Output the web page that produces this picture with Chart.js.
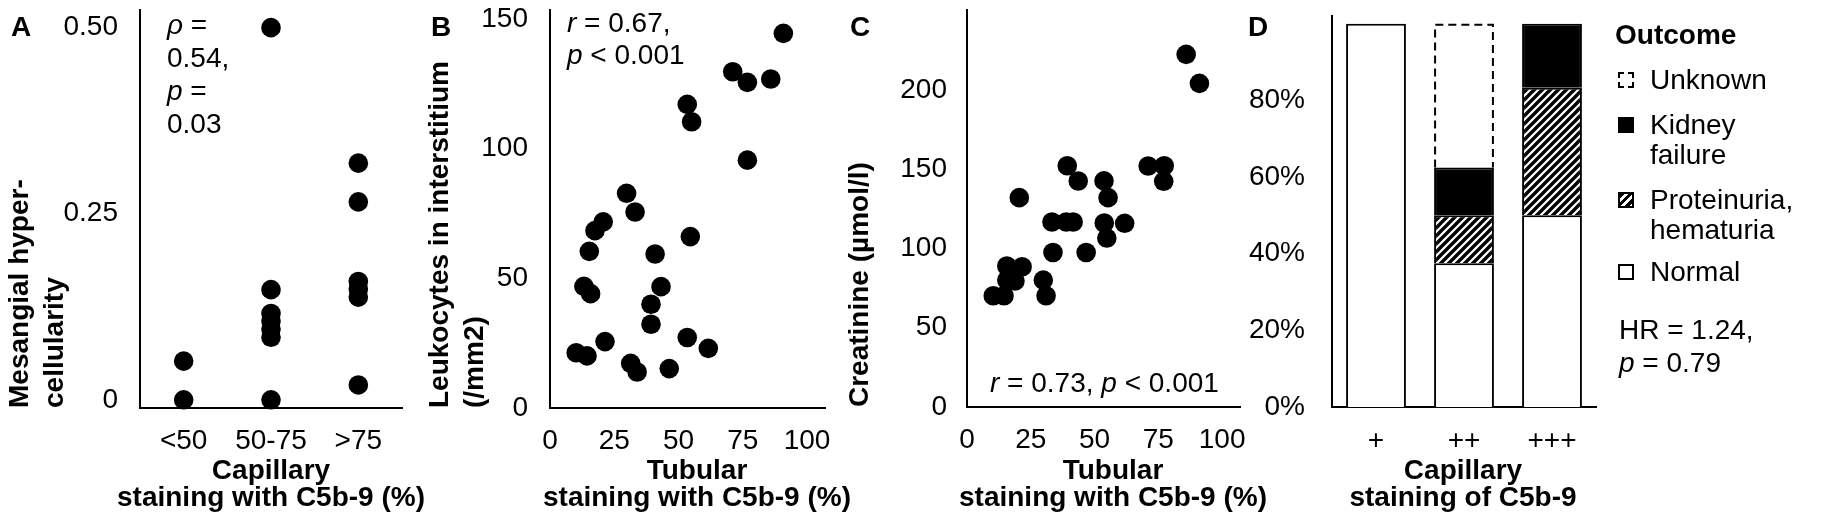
<!DOCTYPE html>
<html>
<head>
<meta charset="utf-8">
<script src="https://cdn.jsdelivr.net/npm/chart.js@4.4.1/dist/chart.umd.min.js"></script>
<style>
  html, body { margin:0; padding:0; background:#fff; }
  #wrap { position:relative; width:1824px; height:520px; background:#fff; overflow:hidden;
          font-family:"Liberation Sans", Arial, Helvetica, sans-serif; color:#000; }
  canvas { position:absolute; top:0; }
  .t { position:absolute; font-size:28px; white-space:nowrap; }
  .b { font-weight:bold; }
  .i { font-style:italic; }
  .xt { position:absolute; width:400px; text-align:center; font-size:28px; font-weight:bold; line-height:27px; top:456px; white-space:nowrap; }
  .mk { position:absolute; box-sizing:border-box; width:16px; height:16px; }
</style>
</head>
<body>
<div id="wrap">
  <canvas id="cA" width="430" height="520" style="left:0px"></canvas>
  <canvas id="cB" width="420" height="520" style="left:420px"></canvas>
  <canvas id="cC" width="410" height="520" style="left:840px"></canvas>
  <canvas id="cD" width="584" height="520" style="left:1240px"></canvas>

  <div class="t b" style="left:11px;top:11px;line-height:32px">A</div>
  <div class="t b" style="left:431px;top:11px;line-height:32px">B</div>
  <div class="t b" style="left:850px;top:11px;line-height:32px">C</div>
  <div class="t b" style="left:1248px;top:11px;line-height:32px">D</div>

  <div class="xt" style="left:71px">Capillary<br>staining with C5b-9 (%)</div>
  <div class="xt" style="left:497px">Tubular<br>staining with C5b-9 (%)</div>
  <div class="xt" style="left:913px">Tubular<br>staining with C5b-9 (%)</div>
  <div class="xt" style="left:1263px">Capillary<br>staining of C5b-9</div>

  <div class="t" style="left:167px;top:8px;line-height:33px"><span class="i">ρ</span> =<br>0.54,<br><span class="i">p</span> =<br>0.03</div>
  <div class="t" style="left:567px;top:7px;line-height:32px"><span class="i">r</span> = 0.67,<br><span class="i">p</span> &lt; 0.001</div>
  <div class="t" style="left:990px;top:367px;line-height:32px"><span class="i">r</span> = 0.73, <span class="i">p</span> &lt; 0.001</div>

  <div class="t b" style="left:1615px;top:19px;line-height:32px">Outcome</div>
  <div class="mk" style="left:1618px;top:72px;border:2px dashed #000;background:#fff"></div>
  <div class="t" style="left:1650px;top:64px;line-height:32px">Unknown</div>
  <div class="mk" style="left:1618px;top:117px;background:#000"></div>
  <div class="t" style="left:1650px;top:110px;line-height:30px">Kidney<br>failure</div>
  <div class="mk" style="left:1618px;top:192px;border:2px solid #000;background:repeating-linear-gradient(135deg,#000 0 3px,#fff 3px 6px)"></div>
  <div class="t" style="left:1650px;top:185px;line-height:30px">Proteinuria,<br>hematuria</div>
  <div class="mk" style="left:1618px;top:264px;border:2px solid #000;background:#fff"></div>
  <div class="t" style="left:1650px;top:256px;line-height:32px">Normal</div>
  <div class="t" style="left:1619px;top:313px;line-height:33px">HR = 1.24,<br><span class="i">p</span> = 0.79</div>
</div>
<script>
// ---------- data ----------
const catsA = ['<50', '50-75', '>75'];
const mesangialLow = [0.052, 0];
const mesangialMid = [0.5, 0.148, 0.116, 0.106, 0.095, 0.084, 0];
const mesangialHigh = [0.318, 0.266, 0.159, 0.149, 0.138, 0.020];
const ticksAy = [0, 0.25, 0.5];
const tickLabelsAy = ['0', '0.25', '0.50'];

const tubularB = [90.8, 71.1, 76.8, 85.9, 53.4, 55.1, 76.8, 29.8, 33.1, 20.7, 17.5, 15.3, 54.6, 40.9,
                  13.2, 15.8, 43.2, 39.3, 39.3, 21.4, 53.4, 61.6, 10.2, 14.4, 31.4, 33.9, 46.4];
const leukocytesB = [144.5, 129.7, 125.6, 126.9, 117.1, 110.4, 95.6, 82.8, 75.6, 71.8, 68.4, 60.4, 66.1, 59.4,
                     46.9, 44.1, 46.8, 40.0, 32.3, 25.6, 27.2, 23.0, 21.3, 20.1, 17.2, 13.9, 15.2];
const tubularC = [85.9, 91.1, 39.3, 43.6, 53.7, 55.3, 71.0, 77.3, 77.1, 20.5, 33.3, 38.9, 41.6, 53.8,
                  61.8, 54.8, 33.7, 46.7, 15.6, 21.6, 15.6, 18.8, 29.9, 10.3, 14.5, 31.0];
const creatinineC = [222.5, 204.2, 152.2, 142.6, 142.7, 132.1, 152.1, 152.2, 142.4, 132.1, 116.7, 116.7, 116.7, 116.1,
                     115.9, 106.6, 97.5, 97.5, 89.0, 88.5, 80.1, 79.5, 80.1, 70.2, 70.2, 70.2];
const ticksTubular = [0, 25, 50, 75, 100];
const ticksBy = [0, 50, 100, 150];
const ticksCy = [0, 50, 100, 150, 200];

const catsD = ['+', '++', '+++'];
const normalD = [100, 37.5, 50];
const proteinuriaD = [null, 12.5, 33.3];
const kidneyD = [null, 12.5, 16.7];
const unknownD = [null, 37.5, null];
const ticksDy = [0, 20, 40, 60, 80];

// ---------- common ----------
const FONT = '"Liberation Sans", Arial, Helvetica, sans-serif';
Chart.defaults.font.family = FONT;
Chart.defaults.font.size = 28;
Chart.defaults.color = '#000';

function fitter(size, vertical) {
  return function (scale) {
    if (vertical) scale.width = size; else scale.height = size;
    scale.paddingTop = 0; scale.paddingBottom = 0; scale.paddingLeft = 0; scale.paddingRight = 0;
  };
}
function fixTicks(vals) {
  return function (scale) { scale.ticks = vals.map(v => ({ value: v })); };
}
const noGrid = { display: false, drawTicks: false, tickLength: 0 };
const border = { display: true, color: '#000', width: 2 };
function yTitle(lines) {
  return { display: true, text: lines, align: 'start', font: { size: 28, weight: 'bold', lineHeight: 1.25 }, padding: { top: 3, bottom: 0 } };
}
const baseOpts = {
  responsive: false, animation: false, events: [],
  plugins: { legend: { display: false }, tooltip: { enabled: false } }
};
const pointStyle = { pointRadius: 9.8, pointHoverRadius: 9.8, backgroundColor: '#000', borderWidth: 0, clip: false };

// ---------- A ----------
new Chart(document.getElementById('cA'), {
  type: 'scatter',
  data: {
    datasets: [
      Object.assign({ data: mesangialLow.map(v => ({ x: 1, y: v })) }, pointStyle),
      Object.assign({ data: mesangialMid.map(v => ({ x: 2, y: v })) }, pointStyle),
      Object.assign({ data: mesangialHigh.map(v => ({ x: 3, y: v })) }, pointStyle)
    ]
  },
  options: Object.assign({}, baseOpts, {
    layout: { padding: { left: 0, top: 9, right: 28, bottom: 0 } },
    scales: {
      x: {
        type: 'linear', min: 0.5, max: 3.5, grid: noGrid, border: border,
        afterBuildTicks: fixTicks([1, 2, 3]), afterFit: fitter(112, false),
        ticks: { padding: 16, maxRotation: 0, autoSkip: false, callback: v => catsA[Math.round(v) - 1] }
      },
      y: {
        type: 'linear', min: -0.011, max: 0.524, grid: noGrid, border: border,
        afterBuildTicks: fixTicks(ticksAy), afterFit: fitter(140, true),
        ticks: { padding: 22, callback: v => tickLabelsAy[ticksAy.indexOf(v)] },
        title: yTitle(['Mesangial hyper-', 'cellularity'])
      }
    }
  })
});

// ---------- B ----------
new Chart(document.getElementById('cB'), {
  type: 'scatter',
  data: { datasets: [Object.assign({ data: tubularB.map((v, i) => ({ x: v, y: leukocytesB[i] })) }, pointStyle)] },
  options: Object.assign({}, baseOpts, {
    layout: { padding: { left: 0, top: 10, right: 15, bottom: 0 } },
    scales: {
      x: {
        type: 'linear', min: 0, max: 107, grid: noGrid, border: border,
        afterBuildTicks: fixTicks(ticksTubular), afterFit: fitter(112, false),
        ticks: { padding: 16, maxRotation: 0, autoSkip: false }
      },
      y: {
        type: 'linear', min: 0, max: 153.5, grid: noGrid, border: border,
        afterBuildTicks: fixTicks(ticksBy), afterFit: fitter(130, true),
        ticks: { padding: 22 },
        title: yTitle(['Leukocytes in interstitium', '(/mm2)'])
      }
    }
  })
});

// ---------- C ----------
new Chart(document.getElementById('cC'), {
  type: 'scatter',
  data: { datasets: [Object.assign({ data: tubularC.map((v, i) => ({ x: v, y: creatinineC[i] })) }, pointStyle)] },
  options: Object.assign({}, baseOpts, {
    layout: { padding: { left: 0, top: 10, right: 10, bottom: 0 } },
    scales: {
      x: {
        type: 'linear', min: 0, max: 107, grid: noGrid, border: border,
        afterBuildTicks: fixTicks(ticksTubular), afterFit: fitter(113, false),
        ticks: { padding: 16, maxRotation: 0, autoSkip: false }
      },
      y: {
        type: 'linear', min: 0, max: 250.5, grid: noGrid, border: border,
        afterBuildTicks: fixTicks(ticksCy), afterFit: fitter(127, true),
        ticks: { padding: 20 },
        title: yTitle(['Creatinine (µmol/l)'])
      }
    }
  })
});

// ---------- D ----------
function makeHatch() {
  const c = document.createElement('canvas');
  c.width = 8; c.height = 8;
  const g = c.getContext('2d');
  g.fillStyle = '#fff'; g.fillRect(0, 0, 8, 8);
  g.strokeStyle = '#000'; g.lineWidth = 3.4; g.lineCap = 'square';
  g.beginPath();
  for (const x0 of [-8, 0, 8]) { g.moveTo(x0, 8); g.lineTo(x0 + 8, 0); }
  g.stroke();
  return g.createPattern(c, 'repeat');
}
const hatch = makeHatch();
const barBorder = { top: 2, left: 2, right: 2, bottom: 0 };
const dashedBars = {
  id: 'dashedBars',
  afterDatasetsDraw(chart) {
    const ctx = chart.ctx;
    chart.data.datasets.forEach((ds, i) => {
      if (!ds.dashed) return;
      const meta = chart.getDatasetMeta(i);
      meta.data.forEach((el, j) => {
        if (ds.data[j] == null) return;
        const p = el.getProps(['x', 'y', 'base', 'width'], true);
        const l = p.x - p.width / 2 + 1, r = p.x + p.width / 2 - 1, top = p.y + 1;
        ctx.save();
        ctx.setLineDash([8, 5]);
        ctx.lineWidth = 2; ctx.strokeStyle = '#000';
        ctx.beginPath();
        ctx.moveTo(l, p.base); ctx.lineTo(l, top); ctx.lineTo(r, top); ctx.lineTo(r, p.base);
        ctx.stroke();
        ctx.restore();
      });
    });
  }
};
new Chart(document.getElementById('cD'), {
  type: 'bar',
  data: {
    labels: catsD,
    datasets: [
      { label: 'Normal', data: normalD, backgroundColor: '#fff', borderColor: '#000', borderWidth: barBorder, borderSkipped: false },
      { label: 'Proteinuria, hematuria', data: proteinuriaD, backgroundColor: hatch, borderColor: '#000', borderWidth: barBorder, borderSkipped: false },
      { label: 'Kidney failure', data: kidneyD, backgroundColor: '#000', borderColor: '#000', borderWidth: barBorder, borderSkipped: false },
      { label: 'Unknown', data: unknownD, backgroundColor: '#fff', borderWidth: 0, dashed: true }
    ]
  },
  plugins: [dashedBars],
  options: Object.assign({}, baseOpts, {
    layout: { padding: { left: 0, top: 16, right: 228, bottom: 0 } },
    datasets: { bar: { categoryPercentage: 1, barPercentage: 0.68 } },
    scales: {
      x: {
        stacked: true, offset: true, grid: Object.assign({ offset: true }, noGrid), border: border,
        afterFit: fitter(113, false),
        ticks: { padding: 17, maxRotation: 0, autoSkip: false }
      },
      y: {
        stacked: true, min: 0, max: 102, grid: noGrid, border: border,
        afterBuildTicks: fixTicks(ticksDy), afterFit: fitter(92, true),
        ticks: { padding: 27, callback: v => v + '%' }
      }
    }
  })
});
</script>
</body>
</html>
